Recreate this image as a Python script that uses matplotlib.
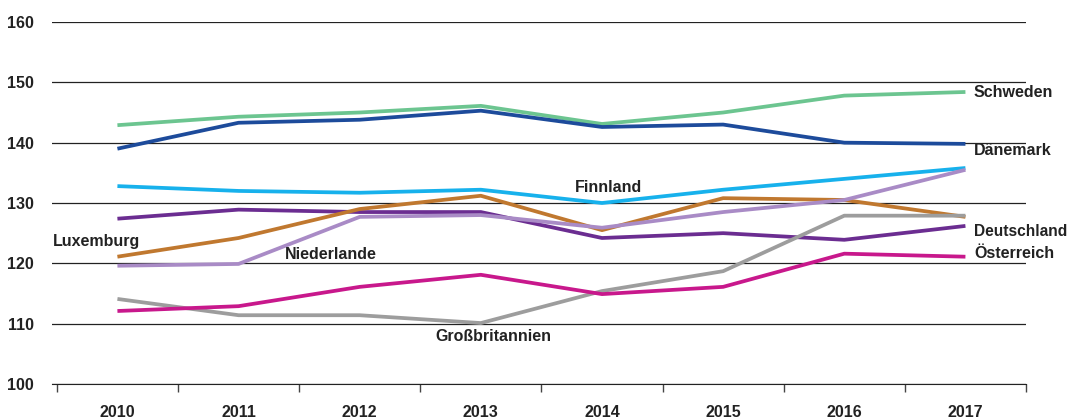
import numpy as np
import matplotlib.pyplot as plt

plt.rcParams['font.family'] = ['Liberation Sans', 'DejaVu Sans']
plt.rcParams['font.weight'] = 'bold'

years = ['2010', '2011', '2012', '2013', '2014', '2015', '2016', '2017']
schweden = [142.9, 144.3, 145.0, 146.1, 143.1, 145.0, 147.8, 148.4]
daenemark = [139.0, 143.3, 143.8, 145.3, 142.6, 143.0, 140.0, 139.8]
finnland = [132.8, 132.0, 131.7, 132.2, 130.0, 132.2, 134.0, 135.8]
deutschland = [127.4, 128.9, 128.5, 128.5, 124.2, 125.0, 123.9, 126.2]
luxemburg = [121.1, 124.2, 129.0, 131.2, 125.5, 130.8, 130.5, 127.7]
niederlande = [119.6, 119.9, 127.7, 128.0, 125.9, 128.5, 130.5, 135.5]
oesterreich = [112.1, 112.9, 116.1, 118.1, 114.9, 116.1, 121.6, 121.1]
grossbritannien = [114.1, 111.4, 111.4, 110.1, 115.4, 118.7, 127.9, 127.9]

fig = plt.figure(figsize=(10.69, 4.19), dpi=100)
ax = fig.add_axes([52/1069, 35/419, (1026-52)/1069, 362/419])

x = np.arange(len(years))
series = [
    (schweden, '#6cc590'),
    (daenemark, '#1d4b9b'),
    (finnland, '#17b1ec'),
    (deutschland, '#6b2d91'),
    (luxemburg, '#c0782f'),
    (niederlande, '#a98bc6'),
    (grossbritannien, '#9d9d9d'),
    (oesterreich, '#c8188c'),
]
for vals, c in series:
    ax.plot(x, vals, color=c, lw=2.7, solid_capstyle='butt', zorder=3)

fs = 11.5
tc = '#222222'

ax.set_ylim(100, 160)
ax.set_xlim(-0.54, 7.5)
ax.set_yticks(np.arange(100, 161, 10))
ax.yaxis.grid(True, color='#222222', lw=0.9)
ax.set_axisbelow(True)
ax.tick_params(axis='y', length=0, pad=13, labelsize=fs, labelcolor=tc)
ax.set_xticks(np.arange(-0.5, 8, 1))
ax.set_xticklabels([])
ax.set_xticks(x, minor=True)
ax.set_xticklabels(years, minor=True, fontsize=fs, color=tc)
ax.tick_params(axis='x', which='major', length=6, width=1, color='#444444', direction='out')
ax.tick_params(axis='x', which='minor', length=0, pad=15)
for s in ['top', 'right', 'left']:
    ax.spines[s].set_visible(False)
ax.spines['bottom'].set_color('#222222')

ax.text(7.07, 148.25, 'Schweden', va='center', fontsize=fs, color=tc)
ax.text(7.07, 138.65, 'Dänemark', va='center', fontsize=fs, color=tc)
ax.text(7.07, 125.2, 'Deutschland', va='center', fontsize=11.2, color=tc)
ax.text(7.07, 121.6, 'Österreich', va='center', fontsize=fs, color=tc)
ax.text(4.05, 132.6, 'Finnland', ha='center', va='center', fontsize=fs, color=tc)
ax.text(-0.53, 123.6, 'Luxemburg', ha='left', va='center', fontsize=fs, color=tc)
ax.text(1.38, 121.5, 'Niederlande', ha='left', va='center', fontsize=fs, color=tc)
ax.text(3.1, 107.9, 'Großbritannien', ha='center', va='center', fontsize=fs, color=tc)

fig.savefig('out.png', dpi=100)
